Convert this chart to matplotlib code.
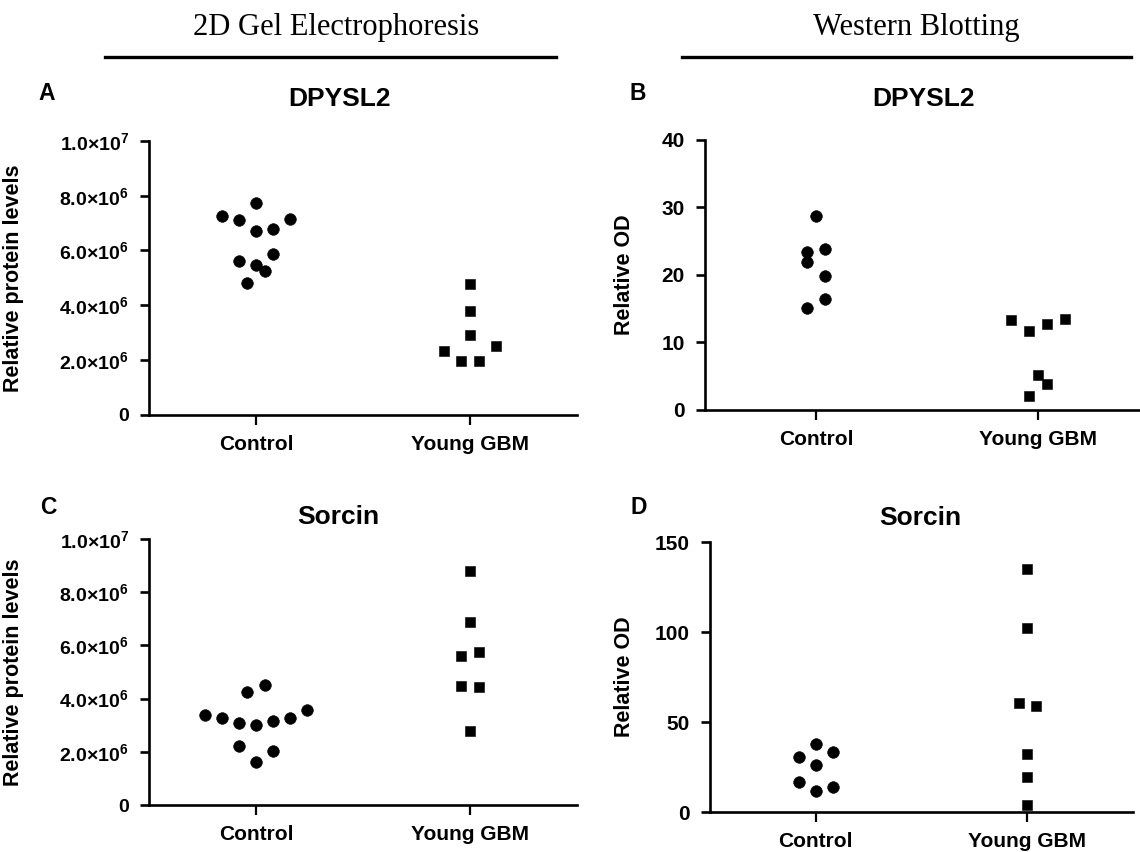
import numpy as np
import matplotlib
matplotlib.use("Agg")
import matplotlib.pyplot as plt
from matplotlib.lines import Line2D

# 数据
groups = ["Control", "Young GBM"]

# A: 2D gel, DPYSL2
a_control = np.array([7.72, 7.25, 7.11, 6.70, 6.79, 7.16, 5.63, 5.48, 5.87, 4.82, 5.26]) * 1e6
a_young = np.array([4.76, 3.77, 2.90, 2.31, 1.94, 1.94, 2.52]) * 1e6

# B: western blot, DPYSL2
b_control = np.array([28.74, 23.45, 23.81, 21.88, 19.90, 15.16, 16.44])
b_young = np.array([13.33, 11.75, 12.69, 13.43, 5.19, 2.07, 3.85])

# C: 2D gel, Sorcin
c_control = np.array([4.23, 4.52, 3.39, 3.26, 3.07, 2.99, 3.14, 3.26, 3.58, 2.22, 1.63, 2.03]) * 1e6
c_young = np.array([8.81, 6.88, 5.62, 5.77, 4.49, 4.45, 2.80]) * 1e6

# D: western blot, Sorcin
d_control = np.array([37.9, 30.5, 26.0, 33.4, 16.6, 11.6, 13.9])
d_young = np.array([134.9, 102.3, 60.4, 59.1, 32.3, 19.4, 4.1])

gel_ticks = [0, 2e6, 4e6, 6e6, 8e6, 1e7]
b_ticks = [0, 10, 20, 30, 40]
d_ticks = [0, 50, 100, 150]

plt.rcParams["font.family"] = ["Liberation Sans", "DejaVu Sans"]
plt.rcParams["font.weight"] = "bold"
plt.rcParams["mathtext.fontset"] = "custom"
plt.rcParams["mathtext.rm"] = "Liberation Sans:bold"
plt.rcParams["mathtext.bf"] = "Liberation Sans:bold"
plt.rcParams["mathtext.it"] = "Liberation Sans:bold"

W, H = 1140, 852
fig = plt.figure(figsize=(W / 100, H / 100), dpi=100)


def px_rect(left, top, right, bottom):
    return [left / W, 1 - bottom / H, (right - left) / W, (bottom - top) / H]


def sci_label(v):
    # Prism 风格: 2.0×10^6
    if v == 0:
        return "0"
    e = int(np.floor(np.log10(v)))
    return f"{v / 10 ** e:.1f}×10$^{{{e}}}$"


def column_offsets(vals, row_h, step):
    # 类似 Prism 的列散点: 相近的值排成一行, 左右对称展开
    vals = np.asarray(vals)
    order = np.argsort(vals, kind="stable")
    rows, cur = [], [order[0]]
    for i in order[1:]:
        if vals[i] - vals[cur[0]] <= row_h:
            cur.append(i)
        else:
            rows.append(cur)
            cur = [i]
    rows.append(cur)
    dx = np.zeros(len(vals))
    for row in rows:
        row = sorted(row)
        for k, i in enumerate(row):
            dx[i] = (k - (len(row) - 1) / 2) * step
    return dx


def draw_panel(rect, ctrl, young, ticks, ticklabels, ylabel, ylabel_x, ytick_size):
    ax = fig.add_axes(rect)
    ytop = ticks[-1]
    for i, (vals, marker, ms) in enumerate([(ctrl, "o", 8.4), (young, "s", 7.8)]):
        dx = column_offsets(vals, 0.063 * ytop, 0.08)
        ax.plot(i + dx, vals, linestyle="none", marker=marker, ms=ms,
                color="black", mew=0.4, clip_on=False, zorder=3)
    ax.set_xlim(-0.5, 1.5)
    ax.set_ylim(0, ytop)
    ax.set_xticks([0, 1])
    ax.set_xticklabels(groups)
    ax.set_yticks(ticks)
    ax.set_yticklabels(ticklabels)
    for s in ["top", "right"]:
        ax.spines[s].set_visible(False)
    for s in ["left", "bottom"]:
        ax.spines[s].set_linewidth(1.9)
    ax.tick_params(axis="x", direction="out", length=7.5, width=1.6, pad=7, labelsize=15)
    ax.tick_params(axis="y", direction="out", length=6.5, width=1.9, pad=8, labelsize=ytick_size)
    ax.set_ylabel(ylabel, fontsize=15.5, fontweight="bold")
    ax.yaxis.set_label_coords(ylabel_x, 0.5)
    ax.patch.set_alpha(0)
    return ax


gel_labels = [sci_label(v) for v in gel_ticks]

draw_panel(px_rect(149, 141, 577, 414.5), a_control, a_young, gel_ticks, gel_labels,
           "Relative protein levels", -0.292, 14)
draw_panel(px_rect(705, 140, 1149, 410), b_control, b_young, b_ticks,
           [str(t) for t in b_ticks], "Relative OD", -0.158, 15)
draw_panel(px_rect(149, 539, 577, 805), c_control, c_young, gel_ticks, gel_labels,
           "Relative protein levels", -0.292, 14)
draw_panel(px_rect(710, 542, 1133, 812), d_control, d_young, d_ticks,
           [str(t) for t in d_ticks], "Relative OD", -0.177, 15)

# 标题与字母
for txt, x, y in [("DPYSL2", 340, 99), ("DPYSL2", 924, 99), ("Sorcin", 338, 517), ("Sorcin", 920, 518)]:
    fig.text(x / W, 1 - y / H, txt, ha="center", va="center", fontsize=19, fontweight="bold")
for txt, x, y in [("A", 47, 94), ("B", 638, 93), ("C", 48, 508), ("D", 639, 508)]:
    fig.text(x / W, 1 - y / H, txt, ha="center", va="center", fontsize=16.5, fontweight="bold")

# 顶部分组标题
for txt, x in [("2D Gel Electrophoresis", 336), ("Western Blotting", 916)]:
    fig.text(x / W, 1 - 27 / H, txt, ha="center", va="center", fontsize=22,
             fontweight="normal", family=["Liberation Serif", "DejaVu Serif"])
for x0, x1 in [(105, 556), (682, 1131)]:
    fig.add_artist(Line2D([x0 / W, x1 / W], [1 - 57 / H, 1 - 57 / H], lw=2.4, color="black"))

fig.savefig("out.png", dpi=100)
